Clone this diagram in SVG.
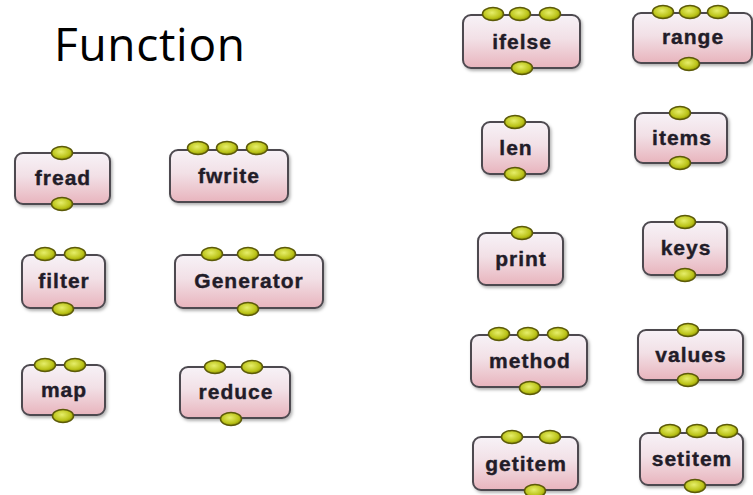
<svg xmlns="http://www.w3.org/2000/svg" width="753" height="495" viewBox="0 0 753 495">
<defs>
<linearGradient id="boxg" x1="0" y1="0" x2="0" y2="1">
<stop offset="0" stop-color="#f7f2f7"/>
<stop offset="0.45" stop-color="#f2e0e6"/>
<stop offset="1" stop-color="#e8b4bd"/>
</linearGradient>
<radialGradient id="portg" cx="0.45" cy="0.4" r="0.6">
<stop offset="0" stop-color="#e6ee6a"/>
<stop offset="0.7" stop-color="#bcc41a"/>
<stop offset="1" stop-color="#8e9400"/>
</radialGradient>
<filter id="sh" x="-10%" y="-10%" width="125%" height="130%">
<feDropShadow dx="1.5" dy="2" stdDeviation="1.5" flood-color="#000" flood-opacity="0.3"/>
</filter>
</defs>
<style>
.box{fill:url(#boxg);stroke:#4e4a50;stroke-width:2;filter:url(#sh)}
.port{fill:url(#portg);stroke:#5c5a08;stroke-width:1.5}
.lbl{font-family:"Liberation Sans",Arial,sans-serif;font-weight:bold;font-size:21px;fill:#221c28;stroke:#221c28;stroke-width:0.4;text-anchor:middle;letter-spacing:1px}
.title{font-family:"Open Sans","DejaVu Sans",sans-serif;font-size:46px;fill:#000}
</style>
<rect width="753" height="495" fill="#fff"/>
<text class="title" x="54" y="61" textLength="191">Function</text>
<g id="connectors"/>

<g id="node-fread">
<rect class="box" x="15" y="153" width="95" height="51" rx="8"/>
<ellipse class="port" cx="62" cy="153" rx="10.5" ry="6.5"/>
<ellipse class="port" cx="62" cy="204" rx="10.5" ry="6.5"/>
<text class="lbl" x="63" y="185">fread</text>
</g>
<g id="node-fwrite">
<rect class="box" x="170" y="150" width="118" height="52" rx="8"/>
<ellipse class="port" cx="198" cy="148" rx="10.5" ry="6.5"/>
<ellipse class="port" cx="227" cy="148" rx="10.5" ry="6.5"/>
<ellipse class="port" cx="257" cy="148" rx="10.5" ry="6.5"/>
<text class="lbl" x="229" y="183">fwrite</text>
</g>
<g id="node-filter">
<rect class="box" x="22" y="255" width="83" height="53" rx="8"/>
<ellipse class="port" cx="45" cy="254" rx="10.5" ry="6.5"/>
<ellipse class="port" cx="75" cy="254" rx="10.5" ry="6.5"/>
<ellipse class="port" cx="63" cy="309" rx="10.5" ry="6.5"/>
<text class="lbl" x="64" y="288">filter</text>
</g>
<g id="node-generator">
<rect class="box" x="175" y="255" width="148" height="53" rx="8"/>
<ellipse class="port" cx="212" cy="254" rx="10.5" ry="6.5"/>
<ellipse class="port" cx="248" cy="254" rx="10.5" ry="6.5"/>
<ellipse class="port" cx="285" cy="254" rx="10.5" ry="6.5"/>
<ellipse class="port" cx="248" cy="309" rx="10.5" ry="6.5"/>
<text class="lbl" x="249" y="288">Generator</text>
</g>
<g id="node-map">
<rect class="box" x="22" y="365" width="83" height="50" rx="8"/>
<ellipse class="port" cx="45" cy="365" rx="10.5" ry="6.5"/>
<ellipse class="port" cx="75" cy="365" rx="10.5" ry="6.5"/>
<ellipse class="port" cx="63" cy="416" rx="10.5" ry="6.5"/>
<text class="lbl" x="64" y="397">map</text>
</g>
<g id="node-reduce">
<rect class="box" x="180" y="367" width="110" height="51" rx="8"/>
<ellipse class="port" cx="215" cy="367" rx="10.5" ry="6.5"/>
<ellipse class="port" cx="252" cy="367" rx="10.5" ry="6.5"/>
<ellipse class="port" cx="231" cy="419" rx="10.5" ry="6.5"/>
<text class="lbl" x="236" y="399">reduce</text>
</g>

<g id="node-ifelse">
<rect class="box" x="463" y="15" width="117" height="53" rx="8"/>
<ellipse class="port" cx="493" cy="14" rx="10.5" ry="6.5"/>
<ellipse class="port" cx="520" cy="14" rx="10.5" ry="6.5"/>
<ellipse class="port" cx="550" cy="14" rx="10.5" ry="6.5"/>
<ellipse class="port" cx="522" cy="68" rx="10.5" ry="6.5"/>
<text class="lbl" x="522" y="49">ifelse</text>
</g>
<g id="node-range">
<rect class="box" x="633" y="13" width="119" height="50" rx="8"/>
<ellipse class="port" cx="663" cy="12" rx="10.5" ry="6.5"/>
<ellipse class="port" cx="690" cy="12" rx="10.5" ry="6.5"/>
<ellipse class="port" cx="718" cy="12" rx="10.5" ry="6.5"/>
<ellipse class="port" cx="689" cy="64" rx="10.5" ry="6.5"/>
<text class="lbl" x="693" y="44">range</text>
</g>
<g id="node-len">
<rect class="box" x="482" y="122" width="67" height="52" rx="8"/>
<ellipse class="port" cx="515" cy="122" rx="10.5" ry="6.5"/>
<ellipse class="port" cx="515" cy="174" rx="10.5" ry="6.5"/>
<text class="lbl" x="516" y="155">len</text>
</g>
<g id="node-items">
<rect class="box" x="635" y="113" width="92" height="50" rx="8"/>
<ellipse class="port" cx="680" cy="113" rx="10.5" ry="6.5"/>
<ellipse class="port" cx="680" cy="163" rx="10.5" ry="6.5"/>
<text class="lbl" x="682" y="145">items</text>
</g>
<g id="node-print">
<rect class="box" x="478" y="233" width="85" height="52" rx="8"/>
<ellipse class="port" cx="522" cy="233" rx="10.5" ry="6.5"/>
<text class="lbl" x="521" y="266">print</text>
</g>
<g id="node-keys">
<rect class="box" x="643" y="222" width="84" height="53" rx="8"/>
<ellipse class="port" cx="685" cy="222" rx="10.5" ry="6.5"/>
<ellipse class="port" cx="685" cy="275" rx="10.5" ry="6.5"/>
<text class="lbl" x="686" y="255">keys</text>
</g>
<g id="node-method">
<rect class="box" x="471" y="335" width="116" height="52" rx="8"/>
<ellipse class="port" cx="499" cy="334" rx="10.5" ry="6.5"/>
<ellipse class="port" cx="528" cy="334" rx="10.5" ry="6.5"/>
<ellipse class="port" cx="558" cy="334" rx="10.5" ry="6.5"/>
<ellipse class="port" cx="530" cy="388" rx="10.5" ry="6.5"/>
<text class="lbl" x="530" y="368">method</text>
</g>
<g id="node-values">
<rect class="box" x="638" y="330" width="105" height="50" rx="8"/>
<ellipse class="port" cx="688" cy="330" rx="10.5" ry="6.5"/>
<ellipse class="port" cx="688" cy="380" rx="10.5" ry="6.5"/>
<text class="lbl" x="691" y="362">values</text>
</g>
<g id="node-getitem">
<rect class="box" x="473" y="437" width="105" height="53" rx="8"/>
<ellipse class="port" cx="512" cy="437" rx="10.5" ry="6.5"/>
<ellipse class="port" cx="550" cy="437" rx="10.5" ry="6.5"/>
<ellipse class="port" cx="535" cy="491" rx="10.5" ry="6.5"/>
<text class="lbl" x="526" y="471">getitem</text>
</g>
<g id="node-setitem">
<rect class="box" x="640" y="433" width="103" height="52" rx="8"/>
<ellipse class="port" cx="670" cy="431" rx="10.5" ry="6.5"/>
<ellipse class="port" cx="697" cy="431" rx="10.5" ry="6.5"/>
<ellipse class="port" cx="727" cy="431" rx="10.5" ry="6.5"/>
<ellipse class="port" cx="695" cy="486" rx="10.5" ry="6.5"/>
<text class="lbl" x="692" y="466">setitem</text>
</g>
</svg>
